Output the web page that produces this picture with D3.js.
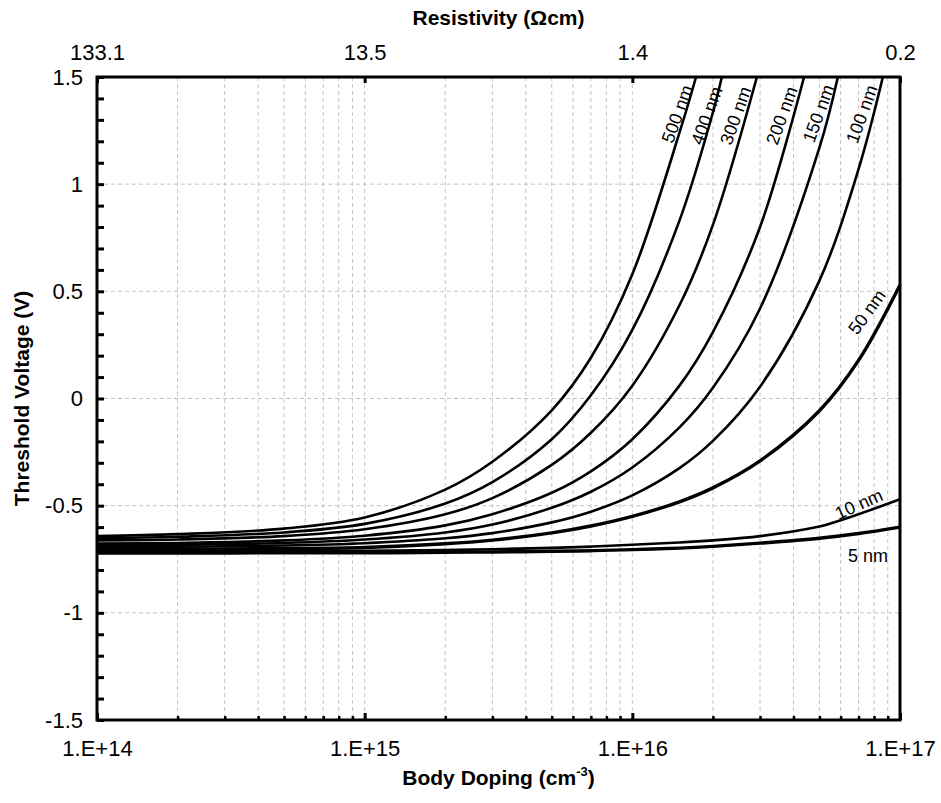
<!DOCTYPE html>
<html>
<head>
<meta charset="utf-8">
<script src="https://cdn.jsdelivr.net/npm/d3@7"></script>
<style>
  body { margin: 0; background: #fff; }
  svg { font-family: "Liberation Sans", Arial, sans-serif; }
</style>
</head>
<body>
<svg id="chart" width="941" height="803"></svg>
<script>
// body doping grid (cm^-3) shared by all curves
const doping = [1e14, 2e14, 5e14, 1e15, 2e15, 3e15, 5e15, 7e15, 1e16, 1.5e16, 2e16, 3e16, 5e16, 5.5e16, 7e16, 1e17];

// threshold voltage (null = above the frame / not read)
const vt500 = [-0.642, -0.633, -0.607, -0.555, -0.425, -0.295, -0.055, 0.19, 0.58, 1.24, null, null, null, null, null, null];
const vt400 = [-0.652, -0.645, -0.625, -0.585, -0.49, -0.39, -0.19, 0.015, 0.32, 0.83, 1.335, null, null, null, null, null];
const vt300 = [-0.662, -0.658, -0.642, -0.61, -0.54, -0.465, -0.31, -0.16, 0.06, 0.435, 0.81, null, null, null, null, null];
const vt200 = [-0.677, -0.674, -0.662, -0.64, -0.592, -0.54, -0.44, -0.34, -0.19, 0.06, 0.31, 0.80, null, null, null, null];
const vt150 = [-0.684, -0.682, -0.674, -0.658, -0.625, -0.588, -0.51, -0.435, -0.322, -0.135, 0.05, 0.42, 1.17, null, null, null];
const vt100 = [-0.694, -0.692, -0.686, -0.675, -0.652, -0.628, -0.578, -0.528, -0.452, -0.325, -0.198, 0.055, 0.55, null, 1.07, null];
const vt50  = [-0.704, -0.703, -0.70, -0.695, -0.678, -0.661, -0.627, -0.595, -0.55, -0.482, -0.417, -0.291, -0.057, null, 0.178, 0.53];
const vt10  = [-0.713, -0.713, -0.712, -0.711, -0.707, -0.703, -0.697, -0.691, -0.682, -0.672, -0.662, -0.642, -0.597, -0.583, -0.54, -0.47];
const vt5   = [-0.721, -0.721, -0.72, -0.72, -0.718, -0.716, -0.713, -0.71, -0.705, -0.698, -0.69, -0.675, -0.652, null, -0.63, -0.60];

const curveNames = ["500 nm", "400 nm", "300 nm", "200 nm", "150 nm", "100 nm", "50 nm", "10 nm", "5 nm"];
const curveValues = [vt500, vt400, vt300, vt200, vt150, vt100, vt50, vt10, vt5];
// doping where a curve leaves through the top of the frame (V = 1.5)
const topExit = [1.73e16, 2.16e16, 2.92e16, 4.38e16, 5.86e16, 8.63e16, null, null, null];

// where each curve label sits, in data units
const labelDoping = [1.47e16, 1.895e16, 2.43e16, 3.61e16, 4.95e16, 7.19e16, 7.52e16, 7.02e16, 7.59e16];
const labelVt = [1.328, 1.32, 1.32, 1.32, 1.33, 1.327, 0.404, -0.492, -0.735];
const labelAngle = [-70, -70, -70, -70, -70, -70, -54, -24, 0];

const bottomTicks = [1e14, 1e15, 1e16, 1e17];
const bottomLabels = ["1.E+14", "1.E+15", "1.E+16", "1.E+17"];
const resistivityLabels = ["133.1", "13.5", "1.4", "0.2"];
const yTicks = [-1.5, -1, -0.5, 0, 0.5, 1, 1.5];

const svg = d3.select("#chart");
const margin = {top: 77, right: 41, bottom: 83, left: 97};
const width = 941, height = 803;
const font = "Liberation Sans, Arial, sans-serif";

const x = d3.scaleLog().domain([1e14, 1e17]).range([margin.left, width - margin.right]);
const y = d3.scaleLinear().domain([-1.5, 1.5]).range([height - margin.bottom, margin.top]);

// minor log positions 2..9 per decade plus decades
const minorVals = [];
[1e14, 1e15, 1e16].forEach(d => { for (let k = 1; k <= 9; k++) { if (k * d > 1e14) minorVals.push(k * d); } });

// grid
const grid = svg.append("g").attr("stroke", "#c4c4c4").attr("stroke-width", 1).attr("stroke-dasharray", "4,3");
grid.selectAll("line.v").data(minorVals).enter().append("line")
    .attr("x1", d => x(d)).attr("x2", d => x(d))
    .attr("y1", y(1.5)).attr("y2", y(-1.5));
grid.selectAll("line.h").data([-1, -0.5, 0, 0.5, 1]).enter().append("line")
    .attr("x1", x(1e14)).attr("x2", x(1e17))
    .attr("y1", d => y(d)).attr("y2", d => y(d));

// curves
const line = d3.line()
    .x(d => x(d[0])).y(d => y(d[1]))
    .curve(d3.curveCatmullRom.alpha(0.5));

curveValues.forEach((vals, i) => {
  const pts = doping.map((n, j) => [n, vals[j]]).filter(p => p[1] !== null);
  if (topExit[i]) pts.push([topExit[i], 1.5]);
  const thick = curveNames[i] === "50 nm" || curveNames[i] === "5 nm";
  svg.append("path")
      .datum(pts)
      .attr("fill", "none")
      .attr("stroke", "#000")
      .attr("stroke-width", thick ? 3.4 : 2.6)
      .attr("d", line);
});

// curve labels
svg.append("g").selectAll("text")
  .data(curveNames)
  .enter().append("text")
    .attr("transform", (d, i) => `translate(${x(labelDoping[i])},${y(labelVt[i])}) rotate(${labelAngle[i]})`)
    .attr("text-anchor", "middle")
    .attr("dy", "0.35em")
    .attr("font-size", 18)
    .attr("fill", "#000")
    .text(d => d);

// axes: left minor ticks (every 0.1) pointing inward
const leftMinor = d3.range(-15, 16).map(v => v / 10);
svg.append("g")
    .attr("transform", `translate(${margin.left},0)`)
    .call(d3.axisLeft(y).tickValues(leftMinor).tickSize(-7).tickFormat(""))
    .call(g => g.select(".domain").remove())
    .call(g => g.selectAll("line").attr("stroke", "#000").attr("stroke-width", 3));

svg.append("g")
    .attr("transform", `translate(${margin.left},0)`)
    .call(d3.axisLeft(y).tickValues(yTicks).tickSize(0).tickPadding(14).tickFormat(d => String(d)))
    .call(g => g.select(".domain").remove())
    .call(g => g.selectAll("text").attr("font-size", 22).attr("font-family", font).attr("fill", "#000"));

// bottom: minor ticks and decade ticks pointing inward
svg.append("g")
    .attr("transform", `translate(0,${height - margin.bottom})`)
    .call(d3.axisBottom(x).tickValues(minorVals.filter(v => !bottomTicks.includes(v))).tickSize(-4).tickFormat(""))
    .call(g => g.select(".domain").remove())
    .call(g => g.selectAll("line").attr("stroke", "#000").attr("stroke-width", 2.5));

svg.append("g")
    .attr("transform", `translate(0,${height - margin.bottom})`)
    .call(d3.axisBottom(x).tickValues(bottomTicks).tickSize(-7).tickPadding(20).tickFormat((d, i) => bottomLabels[i]))
    .call(g => g.select(".domain").remove())
    .call(g => g.selectAll("line").attr("stroke", "#000").attr("stroke-width", 3))
    .call(g => g.selectAll("text").attr("font-size", 22).attr("font-family", font).attr("fill", "#000"));

// top: resistivity labels at the decades
svg.append("g")
    .attr("transform", `translate(0,${margin.top})`)
    .call(d3.axisTop(x).tickValues(bottomTicks).tickSize(-6).tickPadding(17).tickFormat((d, i) => resistivityLabels[i]))
    .call(g => g.select(".domain").remove())
    .call(g => g.selectAll("line").attr("stroke", "#000").attr("stroke-width", 3))
    .call(g => g.selectAll("text").attr("font-size", 22).attr("font-family", font).attr("fill", "#000"));

// frame
svg.append("rect")
    .attr("x", x(1e14)).attr("y", y(1.5))
    .attr("width", x(1e17) - x(1e14)).attr("height", y(-1.5) - y(1.5))
    .attr("fill", "none").attr("stroke", "#000").attr("stroke-width", 3);

// titles
svg.append("text")
    .attr("x", (x(1e14) + x(1e17)) / 2).attr("y", 25)
    .attr("text-anchor", "middle").attr("font-size", 21).attr("font-weight", "bold")
    .text("Resistivity (Ωcm)");

const xt = svg.append("text")
    .attr("x", (x(1e14) + x(1e17)) / 2).attr("y", 785)
    .attr("text-anchor", "middle").attr("font-size", 21).attr("font-weight", "bold");
xt.append("tspan").text("Body Doping (cm");
xt.append("tspan").attr("font-size", 13).attr("dy", -9).text("-3");
xt.append("tspan").attr("dy", 9).text(")");

svg.append("text")
    .attr("transform", `translate(29,${(y(1.5) + y(-1.5)) / 2}) rotate(-90)`)
    .attr("text-anchor", "middle").attr("font-size", 21).attr("font-weight", "bold")
    .text("Threshold Voltage (V)");
</script>
</body>
</html>
